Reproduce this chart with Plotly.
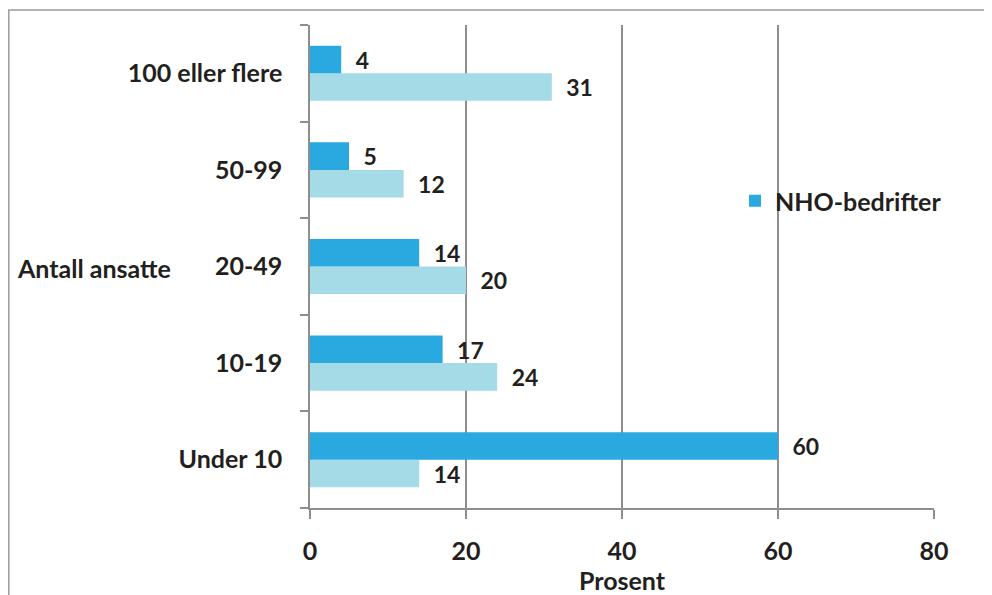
import plotly.graph_objects as go

categories = ["Under 10", "10-19", "20-49", "50-99", "100 eller flere"]
nho_values = [60, 17, 14, 5, 4]
other_values = [14, 24, 20, 12, 31]
x_ticks = [0, 20, 40, 60, 80]

DARK = "#29A9E0"
LIGHT = "#A4DBE7"
GRID = "#8E8E8E"
TXT = "#231F20"
FONT = "Lato"
FS = 25

fig = go.Figure()
fig.add_trace(go.Bar(
    y=categories, x=other_values, orientation="h", name="Andre",
    marker=dict(color=LIGHT, line=dict(width=0)), showlegend=False,
    text=other_values, texttemplate="\u2002%{x}", textposition="outside",
    textfont=dict(family=FONT, size=FS, color=TXT), cliponaxis=False,
))
fig.add_trace(go.Bar(
    y=categories, x=nho_values, orientation="h", name="NHO-bedrifter",
    marker=dict(color=DARK, line=dict(width=0)),
    text=nho_values, texttemplate="\u2002%{x}", textposition="outside",
    textfont=dict(family=FONT, size=FS, color=TXT), cliponaxis=False,
))

# page body has an 8px offset; coordinates below are in figure pixels
W, H = 984, 587
ml, mt = 302, 17
pw, ph = 624, 483
mr, mb = W - ml - pw, H - mt - ph

fig.update_layout(
    width=W, height=H,
    margin=dict(l=ml, r=mr, t=mt, b=mb, autoexpand=False),
    barmode="group", bargap=0.43, bargroupgap=0,
    plot_bgcolor="white", paper_bgcolor="white",
    font=dict(family=FONT, size=FS, color=TXT, weight="bold"),
    legend=dict(x=(727 - ml) / pw, y=(mt + ph - 193) / ph, xanchor="left", yanchor="middle",
                bgcolor="rgba(0,0,0,0)", font=dict(family=FONT, size=FS, color=TXT, weight="bold"),
                itemwidth=30, tracegroupgap=0),
)
fig.update_xaxes(
    range=[0, 80], tickvals=x_ticks, ticktext=[str(v) for v in x_ticks],
    showgrid=True, gridcolor=GRID, gridwidth=1.5, zeroline=False,
    showline=True, linecolor=GRID, linewidth=1.5,
    ticks="outside", ticklen=9, tickcolor=GRID, tickwidth=1.5,
    ticklabelstandoff=11,
    tickfont=dict(family=FONT, size=FS, color=TXT, weight="bold"),
    title=dict(text="Prosent", standoff=0, font=dict(family=FONT, size=FS, color=TXT, weight="bold")),
)
fig.update_yaxes(
    categoryorder="array", categoryarray=categories,
    showline=True, linecolor=GRID, linewidth=1.5,
    ticks="outside", tickson="boundaries", ticklen=8, tickcolor=GRID, tickwidth=1.5,
    ticklabelstandoff=21, showgrid=False,
    tickfont=dict(family=FONT, size=FS, color=TXT, weight="bold"),
)
fig.add_annotation(
    text="Antall ansatte", xref="paper", yref="paper",
    x=(7 - ml) / pw, y=(mt + ph - 260) / ph, xanchor="left", yanchor="middle",
    showarrow=False, font=dict(family=FONT, size=FS, color=TXT, weight="bold"),
)
fig.add_shape(
    type="rect", xref="paper", yref="paper", layer="below",
    x0=(0.8 - ml) / pw, x1=2, y0=-1, y1=1 + (mt - 2) / ph,
    line=dict(color="#9A9A9A", width=1.5), fillcolor="rgba(0,0,0,0)",
)

fig.write_html("out.html")
